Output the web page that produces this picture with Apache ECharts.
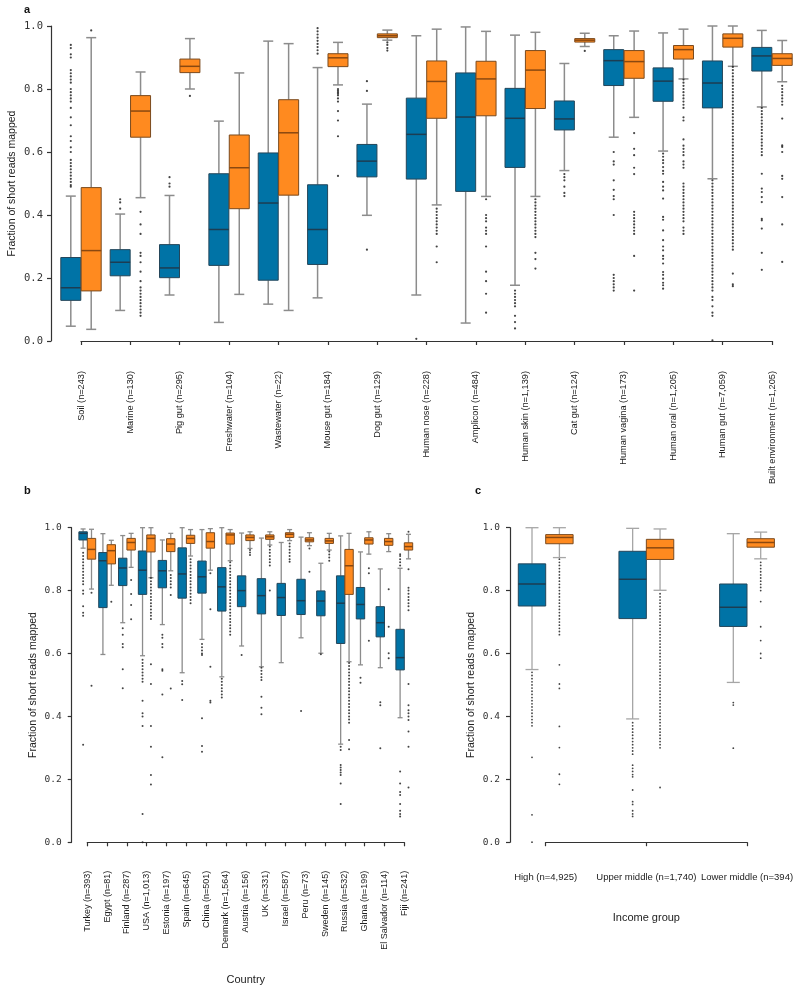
<!DOCTYPE html>
<html>
<head>
<meta charset="utf-8">
<script src="https://cdn.jsdelivr.net/npm/echarts@6/dist/echarts.min.js"></script>
<style>html,body{margin:0;padding:0;background:#fff}#c{width:800px;height:993px}</style>
</head>
<body>
<div id="c"></div>
<script>
// ---------- DATA ----------
// box stats: [lower whisker, Q1, median, Q3, upper whisker]
const habitatLabels = ['Soil (n=243)','Marine (n=130)','Pig gut (n=295)','Freshwater (n=104)','Wastewater (n=22)','Mouse gut (n=184)','Dog gut (n=129)','Human nose (n=228)','Amplicon (n=484)','Human skin (n=1,139)','Cat gut (n=124)','Human vagina (n=173)','Human oral (n=1,205)','Human gut (n=7,059)','Built environment (n=1,205)'];
const habitatBlue = [
  [0.047,0.129,0.169,0.265,0.460],
  [0.097,0.207,0.250,0.290,0.403],
  [0.146,0.201,0.232,0.306,0.462],
  [0.059,0.240,0.354,0.531,0.698],
  [0.117,0.193,0.438,0.597,0.952],
  [0.137,0.243,0.354,0.496,0.868],
  [0.399,0.521,0.571,0.624,0.752],
  [0.146,0.514,0.656,0.771,0.969],
  [0.057,0.475,0.711,0.851,0.997],
  [0.177,0.551,0.707,0.802,0.971],
  [0.541,0.670,0.705,0.762,0.881],
  [0.647,0.811,0.890,0.925,0.969],
  [0.603,0.761,0.825,0.867,0.978],
  [0.515,0.740,0.819,0.889,1.000],
  [0.743,0.857,0.905,0.932,0.986]
];
const habitatOrange = [
  [0.037,0.159,0.287,0.487,0.963],
  [0.455,0.647,0.730,0.779,0.854],
  [0.800,0.852,0.872,0.895,0.960],
  [0.148,0.420,0.550,0.654,0.851],
  [0.097,0.463,0.661,0.766,0.944],
  [0.813,0.871,0.899,0.912,0.948],
  [0.955,0.963,0.969,0.975,0.987],
  [0.432,0.707,0.824,0.889,0.990],
  [0.459,0.715,0.832,0.888,0.983],
  [0.459,0.738,0.860,0.922,0.980],
  [0.935,0.949,0.955,0.960,0.977],
  [0.710,0.834,0.887,0.922,0.984],
  [0.832,0.895,0.925,0.938,0.990],
  [0.872,0.933,0.961,0.975,1.000],
  [0.823,0.875,0.897,0.912,0.954]
];
const habitatBlueOut = [
  [0.94,0.93,0.91,0.90,0.86,0.85,0.84,0.83,0.82,0.80,0.79,0.78,0.77,0.76,0.74,0.71,0.685,0.65,0.635,0.615,0.60,0.575,0.565,0.555,0.545,0.535,0.525,0.515,0.505,0.495,0.49],
  [0.45,0.44,0.42],
  [0.52,0.50,0.49],
  [],
  [],
  [0.993,0.983,0.973,0.963,0.953,0.943,0.933,0.923,0.912],
  [0.825,0.794,0.290],
  [0.007],
  [],
  [0.16,0.15,0.14,0.13,0.12,0.11,0.08,0.06,0.04],
  [0.53,0.52,0.51,0.49,0.47,0.46],
  [0.60,0.57,0.56,0.51,0.48,0.46,0.45,0.40,0.21,0.20,0.19,0.18,0.17,0.16],
  [0.595,0.585,0.574,0.565,0.552,0.54,0.531,0.505,0.49,0.478,0.452,0.394,0.385,0.351,0.32,0.30,0.288,0.27,0.261,0.246,0.219,0.21,0.198,0.185,0.177,0.166],
  [0.51,0.50,0.49,0.48,0.47,0.46,0.45,0.44,0.43,0.42,0.41,0.40,0.39,0.38,0.37,0.36,0.35,0.34,0.33,0.32,0.31,0.30,0.29,0.28,0.27,0.26,0.25,0.24,0.23,0.22,0.21,0.20,0.19,0.18,0.17,0.16,0.14,0.13,0.11,0.09,0.08,0.002],
  [0.74,0.73,0.72,0.71,0.70,0.69,0.68,0.67,0.66,0.65,0.64,0.63,0.62,0.61,0.60,0.59,0.531,0.484,0.473,0.457,0.441,0.388,0.383,0.357,0.280,0.226]
];
const habitatOrangeOut = [
  [0.986],
  [0.41,0.37,0.34,0.28,0.27,0.25,0.22,0.19,0.17,0.16,0.15,0.14,0.13,0.12,0.11,0.10,0.09,0.08],
  [0.778],
  [],
  [],
  [0.80,0.795,0.79,0.785,0.78,0.77,0.76,0.73,0.70,0.65,0.524],
  [0.948,0.94,0.93,0.922],
  [0.42,0.41,0.40,0.39,0.38,0.37,0.36,0.35,0.34,0.30,0.25],
  [0.45,0.40,0.39,0.38,0.36,0.35,0.34,0.30,0.22,0.19,0.15,0.09],
  [0.45,0.44,0.43,0.42,0.41,0.40,0.39,0.38,0.37,0.36,0.35,0.34,0.33,0.28,0.26,0.23],
  [0.921],
  [0.66,0.61,0.59,0.55,0.53,0.41,0.40,0.39,0.38,0.37,0.36,0.35,0.34,0.27,0.16],
  [0.83,0.82,0.81,0.80,0.79,0.78,0.77,0.76,0.75,0.74,0.71,0.70,0.64,0.62,0.61,0.60,0.59,0.57,0.56,0.55,0.50,0.49,0.48,0.47,0.46,0.45,0.44,0.43,0.42,0.41,0.40,0.39,0.38,0.36,0.35,0.34],
  [0.87,0.86,0.85,0.84,0.83,0.82,0.81,0.80,0.79,0.78,0.77,0.76,0.75,0.74,0.73,0.72,0.71,0.70,0.69,0.68,0.67,0.66,0.65,0.64,0.63,0.62,0.61,0.60,0.59,0.58,0.57,0.56,0.55,0.54,0.53,0.52,0.51,0.50,0.49,0.48,0.47,0.46,0.45,0.44,0.43,0.42,0.41,0.40,0.39,0.38,0.37,0.36,0.35,0.34,0.33,0.32,0.31,0.30,0.29,0.214,0.18,0.174],
  [0.81,0.80,0.79,0.78,0.77,0.76,0.75,0.706,0.621,0.616,0.600,0.524,0.515,0.457,0.370,0.251]
];

const countryLabels = ['Turkey (n=393)','Egypt (n=81)','Finland (n=287)','USA (n=1,013)','Estonia (n=197)','Spain (n=645)','China (n=501)','Denmark (n=1,564)','Austria (n=156)','UK (n=331)','Israel (n=587)','Peru (n=73)','Sweden (n=145)','Russia (n=532)','Ghana (n=199)','El Salvador (n=114)','Fiji (n=241)'];
const countryBlue = [
  [0.935,0.961,0.982,0.987,0.996],
  [0.597,0.746,0.895,0.921,0.981],
  [0.698,0.816,0.872,0.903,0.975],
  [0.593,0.788,0.865,0.926,1.000],
  [0.692,0.809,0.863,0.896,0.961],
  [0.539,0.776,0.853,0.936,1.000],
  [0.645,0.792,0.844,0.894,0.994],
  [0.526,0.735,0.812,0.873,1.000],
  [0.624,0.749,0.800,0.847,0.983],
  [0.558,0.726,0.784,0.838,0.967],
  [0.571,0.721,0.778,0.823,0.953],
  [0.650,0.724,0.768,0.836,0.970],
  [0.601,0.720,0.767,0.799,0.887],
  [0.312,0.632,0.760,0.847,0.974],
  [0.564,0.710,0.756,0.810,0.923],
  [0.555,0.653,0.698,0.749,0.869],
  [0.396,0.548,0.587,0.677,0.871]
];
const countryOrange = [
  [0.805,0.900,0.931,0.966,0.995],
  [0.817,0.885,0.927,0.946,0.960],
  [0.874,0.929,0.953,0.966,0.982],
  [0.841,0.923,0.966,0.977,1.000],
  [0.863,0.924,0.948,0.965,0.982],
  [0.910,0.950,0.966,0.976,0.994],
  [0.865,0.935,0.956,0.984,0.997],
  [0.895,0.948,0.977,0.983,0.994],
  [0.934,0.959,0.969,0.977,0.987],
  [0.945,0.963,0.971,0.977,0.987],
  [0.959,0.969,0.979,0.984,0.994],
  [0.943,0.955,0.961,0.968,0.984],
  [0.929,0.950,0.958,0.966,0.982],
  [0.574,0.788,0.879,0.931,0.982],
  [0.916,0.948,0.961,0.968,0.987],
  [0.924,0.944,0.956,0.966,0.981],
  [0.901,0.929,0.940,0.952,0.979]
];
const countryBlueOut = [
  [0.92,0.91,0.90,0.89,0.88,0.87,0.86,0.85,0.84,0.83,0.82,0.80,0.79,0.75,0.73,0.72,0.31],
  [],
  [0.68,0.66,0.63,0.62,0.55,0.49],
  [0.58,0.57,0.56,0.55,0.54,0.53,0.52,0.51,0.45,0.41,0.40,0.37,0.09,0.0],
  [0.66,0.65,0.63,0.62,0.55,0.545,0.47,0.27],
  [0.513,0.502,0.452],
  [0.63,0.62,0.61,0.60,0.595,0.394,0.306,0.288],
  [0.52,0.51,0.50,0.49,0.48,0.47,0.46],
  [0.595],
  [0.555,0.545,0.535,0.525,0.516,0.463,0.428,0.407],
  [],
  [0.417],
  [0.598],
  [0.304,0.293,0.246,0.238,0.23,0.222,0.214,0.187,0.122],
  [0.523,0.507],
  [0.445,0.436,0.299],
  [0.916,0.91,0.90,0.89,0.88,0.225,0.187,0.16,0.15,0.122,0.10,0.09,0.082]
];
const countryOrangeOut = [
  [0.793,0.498],
  [0.765],
  [0.834,0.789,0.754,0.709],
  [0.84,0.83,0.82,0.81,0.80,0.79,0.78,0.77,0.76,0.75,0.74,0.73,0.72,0.71,0.566,0.503,0.370,0.304,0.214,0.184],
  [0.85,0.84,0.83,0.82,0.81,0.786,0.489],
  [0.90,0.89,0.88,0.87,0.86,0.85,0.84,0.83,0.82,0.81,0.80,0.79,0.78,0.77,0.76],
  [0.855,0.741,0.558,0.45,0.444],
  [0.89,0.88,0.87,0.86,0.85,0.84,0.83,0.82,0.81,0.80,0.79,0.78,0.77,0.76,0.75,0.74,0.73,0.72,0.71,0.70,0.69,0.68,0.67,0.66],
  [0.929,0.921,0.913],
  [0.94,0.93,0.92,0.91,0.90,0.89,0.88,0.80],
  [0.95,0.94,0.93,0.92,0.91,0.90,0.892],
  [0.934,0.86],
  [0.924,0.915,0.905,0.895],
  [0.57,0.56,0.55,0.54,0.53,0.52,0.51,0.50,0.49,0.48,0.47,0.46,0.45,0.44,0.43,0.42,0.41,0.40,0.39,0.38,0.325,0.296],
  [0.871,0.855,0.641],
  [0.804,0.685,0.601,0.585],
  [0.987,0.868,0.809,0.80,0.79,0.78,0.77,0.76,0.75,0.738,0.503,0.436,0.42,0.41,0.40,0.389,0.352,0.304,0.174]
];

const incomeLabels = ['High (n=4,925)','Upper middle (n=1,740)','Lower middle (n=394)'];
const incomeBlue = [
  [0.549,0.751,0.821,0.885,1.000],
  [0.392,0.711,0.836,0.925,0.998],
  [0.508,0.686,0.747,0.821,0.981]
];
const incomeOrange = [
  [0.905,0.949,0.969,0.978,1.000],
  [0.801,0.899,0.936,0.963,0.996],
  [0.901,0.938,0.953,0.965,0.986]
];
const incomeBlueOut = [
  [0.54,0.53,0.52,0.51,0.50,0.49,0.48,0.47,0.46,0.45,0.44,0.43,0.42,0.41,0.40,0.39,0.38,0.37,0.27,0.087,0.0],
  [0.38,0.37,0.36,0.35,0.34,0.33,0.32,0.31,0.30,0.29,0.28,0.245,0.235,0.225,0.215,0.208,0.166,0.129,0.12,0.10,0.09,0.082],
  [0.444,0.436,0.299]
];
const incomeOrangeOut = [
  [0.90,0.89,0.88,0.87,0.86,0.85,0.84,0.83,0.82,0.81,0.80,0.79,0.78,0.77,0.76,0.75,0.74,0.73,0.72,0.71,0.70,0.69,0.68,0.67,0.66,0.564,0.503,0.489,0.368,0.301,0.216,0.184],
  [0.79,0.78,0.77,0.76,0.75,0.74,0.73,0.72,0.71,0.70,0.69,0.68,0.67,0.66,0.65,0.64,0.63,0.62,0.61,0.60,0.59,0.58,0.57,0.56,0.55,0.54,0.53,0.52,0.51,0.50,0.49,0.48,0.47,0.46,0.45,0.44,0.43,0.42,0.41,0.40,0.39,0.38,0.37,0.36,0.35,0.34,0.33,0.32,0.31,0.30,0.174],
  [0.89,0.88,0.87,0.86,0.85,0.84,0.83,0.82,0.81,0.80,0.765,0.685,0.641,0.60,0.585]
];

const yTicks = [0, 0.2, 0.4, 0.6, 0.8, 1.0];

// ---------- STYLE ----------
const BLUE = '#0073A6', ORANGE = '#FF8A1F';
const BLUE_EDGE = '#24465a', ORANGE_EDGE = '#7a4a1e';
const BLUE_MED = '#1c3d52', ORANGE_MED = '#8a4810';
const AXIS = '#333';
const SANS = 'Liberation Sans, Arial, sans-serif';
const MONO = 'DejaVu Sans Mono, monospace';

function boxRenderer(off, w, capW, fill, edge, med, whW, whColor) {
  return function (params, api) {
    const c = api.value(0);
    const lo = api.coord([c, api.value(1)]);
    const q1 = api.coord([c, api.value(2)]);
    const md = api.coord([c, api.value(3)]);
    const q3 = api.coord([c, api.value(4)]);
    const hi = api.coord([c, api.value(5)]);
    const x = lo[0] + off;
    const ws = { stroke: whColor, lineWidth: whW };
    return {
      type: 'group',
      children: [
        { type: 'line', shape: { x1: x, y1: hi[1], x2: x, y2: q3[1] }, style: ws },
        { type: 'line', shape: { x1: x, y1: q1[1], x2: x, y2: lo[1] }, style: ws },
        { type: 'line', shape: { x1: x - capW / 2, y1: hi[1], x2: x + capW / 2, y2: hi[1] }, style: ws },
        { type: 'line', shape: { x1: x - capW / 2, y1: lo[1], x2: x + capW / 2, y2: lo[1] }, style: ws },
        { type: 'rect', shape: { x: x - w / 2, y: q3[1], width: w, height: q1[1] - q3[1] }, style: { fill: fill, stroke: edge, lineWidth: 1 } },
        { type: 'line', shape: { x1: x - w / 2, y1: md[1], x2: x + w / 2, y2: md[1] }, style: { stroke: med, lineWidth: 1.5 } }
      ]
    };
  };
}

function boxSeries(stats, idx, off, w, capW, fill, edge, med, whW, whColor) {
  return {
    type: 'custom',
    xAxisIndex: idx, yAxisIndex: idx,
    clip: false,
    silent: true,
    renderItem: boxRenderer(off, w, capW, fill, edge, med, whW, whColor),
    encode: { x: 0, y: [1, 2, 3, 4, 5] },
    data: stats.map((s, i) => [i].concat(s))
  };
}

function outSeries(lists, idx, off, size) {
  const data = [];
  lists.forEach((l, i) => l.forEach(v => data.push([i, v])));
  return {
    type: 'scatter',
    xAxisIndex: idx, yAxisIndex: idx,
    clip: false,
    silent: true,
    symbol: 'circle',
    symbolSize: size,
    symbolOffset: [off, 0],
    itemStyle: { color: '#151515' },
    data: data
  };
}

function xAxisDef(idx, labels, offset, rotate, fontSize, margin, name, nameGap) {
  return {
    type: 'category', gridIndex: idx, data: labels, boundaryGap: false, offset: offset,
    axisLine: { show: true, lineStyle: { color: AXIS, width: 1.2 } },
    axisTick: { show: true, interval: 0, length: 4, lineStyle: { color: AXIS, width: 1.2 } },
    axisLabel: { interval: 0, rotate: rotate, fontSize: fontSize, fontFamily: SANS, color: '#222', margin: margin },
    splitLine: { show: false },
    name: name, nameLocation: 'middle', nameGap: nameGap, nameMoveOverlap: false,
    nameTextStyle: { fontSize: 11, fontFamily: SANS, color: '#222' }
  };
}

function yAxisDef(idx, offset, fontSize, margin) {
  return {
    type: 'value', gridIndex: idx, min: yTicks[0], max: yTicks[yTicks.length - 1], interval: 0.2, offset: offset,
    axisLine: { show: true, lineStyle: { color: AXIS, width: 1.2 } },
    axisTick: { show: true, length: 4, lineStyle: { color: AXIS, width: 1.2 } },
    axisLabel: { fontSize: fontSize, fontFamily: MONO, color: '#333', margin: margin, formatter: v => v.toFixed(1) },
    splitLine: { show: false },
    name: 'Fraction of short reads mapped', nameLocation: 'middle', nameGap: 33, nameMoveOverlap: false,
    nameTextStyle: { fontSize: 10.5, fontFamily: SANS, color: '#222' }
  };
}

const chart = echarts.init(document.getElementById('c'), null, { renderer: 'canvas' });
chart.setOption({
  animation: false,
  backgroundColor: '#fff',
  grid: [
    { left: 81, top: 26, width: 691, height: 315, outerBoundsMode: 'none', containLabel: false },
    { left: 87.3, top: 527.7, width: 317, height: 314.6, outerBoundsMode: 'none', containLabel: false },
    { left: 545.7, top: 527.7, width: 201.3, height: 314.5, outerBoundsMode: 'none', containLabel: false }
  ],
  xAxis: [
    xAxisDef(0, habitatLabels, 22, 90, 9.2, 8, '', 0),
    xAxisDef(1, countryLabels, 20.4, 90, 9, 8, 'Country', 112),
    xAxisDef(2, incomeLabels, 21.5, 0, 9.5, 9, 'Income group', 49)
  ],
  yAxis: [
    yAxisDef(0, 30, 10.5, 8),
    yAxisDef(1, 15.6, 9.5, 10),
    yAxisDef(2, 35.7, 9.5, 10)
  ],
  graphic: [
    { type: 'text', left: 24, top: 4, style: { text: 'a', font: 'bold 11px Liberation Sans', fill: '#111' } },
    { type: 'text', left: 24, top: 485, style: { text: 'b', font: 'bold 11px Liberation Sans', fill: '#111' } },
    { type: 'text', left: 475, top: 485, style: { text: 'c', font: 'bold 11px Liberation Sans', fill: '#111' } }
  ],
  series: [
    boxSeries(habitatBlue, 0, -10.2, 20, 10, BLUE, BLUE_EDGE, BLUE_MED, 1.5, '#8c8c8c'),
    boxSeries(habitatOrange, 0, 10.2, 20, 10, ORANGE, ORANGE_EDGE, ORANGE_MED, 1.5, '#8c8c8c'),
    outSeries(habitatBlueOut, 0, -10.2, 2.2),
    outSeries(habitatOrangeOut, 0, 10.2, 2.2),
    boxSeries(countryBlue, 1, -4.2, 8.4, 5, BLUE, BLUE_EDGE, BLUE_MED, 1.3, '#8c8c8c'),
    boxSeries(countryOrange, 1, 4.2, 8.4, 5, ORANGE, ORANGE_EDGE, ORANGE_MED, 1.3, '#8c8c8c'),
    outSeries(countryBlueOut, 1, -4.2, 2),
    outSeries(countryOrangeOut, 1, 4.2, 2),
    boxSeries(incomeBlue, 2, -13.7, 27.4, 13, BLUE, BLUE_EDGE, BLUE_MED, 1.3, '#a6a6a6'),
    boxSeries(incomeOrange, 2, 13.7, 27.4, 13, ORANGE, ORANGE_EDGE, ORANGE_MED, 1.3, '#a6a6a6'),
    outSeries(incomeBlueOut, 2, -13.7, 1.8),
    outSeries(incomeOrangeOut, 2, 13.7, 1.8)
  ]
});
</script>
</body>
</html>
